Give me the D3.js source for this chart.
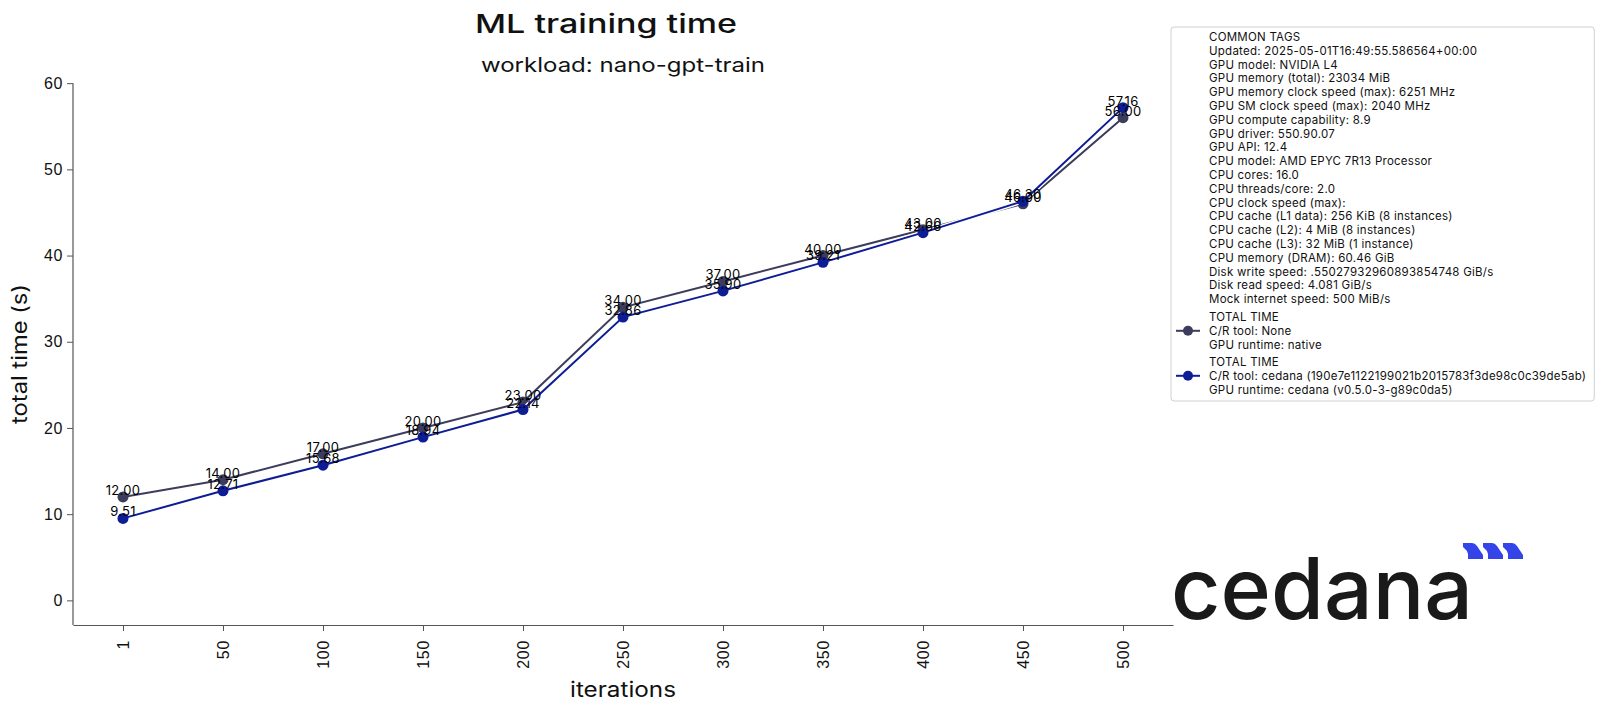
<!DOCTYPE html>
<html>
<head>
<meta charset="UTF-8">
<title>ML training time</title>
<style>
  body { margin: 0; background: #fff; }
  svg { font-family: Inter, "Noto Sans", sans-serif; }
</style>
</head>
<body>
<svg width="1600" height="713"></svg>
<script src="https://cdn.jsdelivr.net/npm/d3@7/dist/d3.min.js"></script>
<script>
// data
var iterations = ["1", "50", "100", "150", "200", "250", "300", "350", "400", "450", "500"];
var nativeTime = [12.00, 14.00, 17.00, 20.00, 23.00, 34.00, 37.00, 40.00, 43.00, 46.00, 56.00];
var cedanaTime = [9.51, 12.71, 15.68, 18.94, 22.14, 32.86, 35.90, 39.21, 42.66, 46.30, 57.16];
var yTicks = [0, 10, 20, 30, 40, 50, 60];

var commonTags = [
  "COMMON TAGS",
  "Updated: 2025-05-01T16:49:55.586564+00:00",
  "GPU model: NVIDIA L4",
  "GPU memory (total): 23034 MiB",
  "GPU memory clock speed (max): 6251 MHz",
  "GPU SM clock speed (max): 2040 MHz",
  "GPU compute capability: 8.9",
  "GPU driver: 550.90.07",
  "GPU API: 12.4",
  "CPU model: AMD EPYC 7R13 Processor",
  "CPU cores: 16.0",
  "CPU threads/core: 2.0",
  "CPU clock speed (max):",
  "CPU cache (L1 data): 256 KiB (8 instances)",
  "CPU cache (L2): 4 MiB (8 instances)",
  "CPU cache (L3): 32 MiB (1 instance)",
  "CPU memory (DRAM): 60.46 GiB",
  "Disk write speed: .55027932960893854748 GiB/s",
  "Disk read speed: 4.081 GiB/s",
  "Mock internet speed: 500 MiB/s"
];
var nativeLabel = ["TOTAL TIME", "C/R tool: None", "GPU runtime: native"];
var cedanaLabel = ["TOTAL TIME", "C/R tool: cedana (190e7e1122199021b2015783f3de98c0c39de5ab)", "GPU runtime: cedana (v0.5.0-3-g89c0da5)"];

var series = [
  { name: "native", values: nativeTime, color: "#3c3c5c", lines: nativeLabel },
  { name: "cedana", values: cedanaTime, color: "#0e1c96", lines: cedanaLabel }
];

(function() {
  var svg = d3.select("svg");
  var mLeft = 73, mRight = 1173, mTop = 83, mBottom = 625;

  var x = d3.scalePoint().domain(iterations).range([mLeft, mRight]).padding(0.5);
  var yMax = d3.max(cedanaTime.concat(nativeTime)) * 1.05;
  var y = d3.scaleLinear().domain([-yMax * 0.05 / 1.05, yMax]).range([mBottom, mTop]);

  // axes
  var gx = svg.append("g").attr("transform", "translate(0," + mBottom + ")")
    .call(d3.axisBottom(x).tickSize(6).tickSizeOuter(0));
  gx.select(".domain").attr("stroke", "#555").attr("stroke-width", 1.2);
  gx.selectAll(".tick line").attr("stroke", "#555");
  gx.selectAll(".tick text")
    .attr("font-size", 16).attr("fill", "#111").attr("letter-spacing", 0.7)
    .attr("transform", "rotate(-90)")
    .attr("text-anchor", "end")
    .attr("dy", "0.35em")
    .attr("x", -15).attr("y", 0);

  var gy = svg.append("g").attr("transform", "translate(" + mLeft + ",0)")
    .call(d3.axisLeft(y).tickValues(yTicks).tickSize(6).tickSizeOuter(0));
  gy.select(".domain").attr("stroke", "#555").attr("stroke-width", 1.2)
    .attr("d", "M0," + y(60) + "V" + mBottom);
  gy.selectAll(".tick line").attr("stroke", "#555");
  gy.selectAll(".tick text").attr("font-size", 16).attr("fill", "#111")
    .attr("letter-spacing", 0.6).attr("x", -10);

  // axis titles
  svg.append("text").attr("x", (mLeft + mRight) / 2).attr("y", 697)
    .attr("text-anchor", "middle").attr("font-size", 21).attr("fill", "#111")
    .attr("textLength", 106).attr("lengthAdjust", "spacingAndGlyphs")
    .text("iterations");
  svg.append("text").attr("transform", "translate(27," + (mTop + mBottom) / 2 + ") rotate(-90)")
    .attr("text-anchor", "middle").attr("font-size", 21).attr("fill", "#111")
    .attr("textLength", 140).attr("lengthAdjust", "spacingAndGlyphs")
    .text("total time (s)");

  // titles
  svg.append("text").attr("x", 606).attr("y", 33)
    .attr("text-anchor", "middle").attr("font-size", 26).attr("font-weight", 500).attr("fill", "#111")
    .attr("textLength", 262).attr("lengthAdjust", "spacingAndGlyphs")
    .text("ML training time");
  svg.append("text").attr("x", (mLeft + mRight) / 2).attr("y", 72)
    .attr("text-anchor", "middle").attr("font-size", 20).attr("fill", "#111")
    .attr("textLength", 284).attr("lengthAdjust", "spacingAndGlyphs")
    .text("workload: nano-gpt-train");

  // lines + markers
  var line = d3.line().x(function(d, i) { return x(iterations[i]); }).y(function(d) { return y(d); });

  series.forEach(function(s) {
    var g = svg.append("g");
    g.append("path").datum(s.values).attr("d", line)
      .attr("fill", "none").attr("stroke", "#fff").attr("stroke-width", 4.5);
    g.append("path").datum(s.values).attr("d", line)
      .attr("fill", "none").attr("stroke", s.color).attr("stroke-width", 2);
    g.selectAll("circle").data(s.values).enter().append("circle")
      .attr("cx", function(d, i) { return x(iterations[i]); })
      .attr("cy", function(d) { return y(d); })
      .attr("r", 5.5).attr("fill", s.color);
  });

  // value labels
  series.forEach(function(s) {
    svg.append("g").selectAll("text").data(s.values).enter().append("text")
      .attr("x", function(d, i) { return x(iterations[i]); })
      .attr("y", function(d) { return y(d) - 2; })
      .attr("text-anchor", "middle").attr("font-size", 13).attr("letter-spacing", 0.3)
      .attr("fill", "#000")
      .text(function(d) { return d.toFixed(2); });
  });

  // legend
  var lg = svg.append("g");
  var box = lg.append("rect").attr("fill", "#fff").attr("fill-opacity", 0.85)
    .attr("stroke", "#d0d0d0").attr("rx", 3);
  var tx = 1209, lh = 13.8;
  var legendText = lg.append("g").attr("font-size", 11.5).attr("letter-spacing", 0.25).attr("fill", "#111");
  commonTags.forEach(function(t, i) {
    legendText.append("text").attr("x", tx).attr("y", 41 + i * lh).text(t);
  });
  var blockTop = [321, 366];
  series.forEach(function(s, k) {
    s.lines.forEach(function(t, i) {
      legendText.append("text").attr("x", tx).attr("y", blockTop[k] + i * lh).text(t);
    });
    var my = blockTop[k] + lh - 4;
    lg.append("line").attr("x1", 1176).attr("x2", 1200).attr("y1", my).attr("y2", my)
      .attr("stroke", s.color).attr("stroke-width", 2);
    lg.append("circle").attr("cx", 1188).attr("cy", my).attr("r", 5).attr("fill", s.color);
  });
  var bb = legendText.node().getBBox();
  box.attr("x", 1171).attr("y", 27).attr("width", bb.x + bb.width + 8 - 1171).attr("height", 401 - 27);

  // logo
  var logo = svg.append("g");
  logo.append("text").attr("x", 1171).attr("y", 619)
    .attr("font-size", 85).attr("font-weight", 500).attr("fill", "#1a1a1a")
    .attr("textLength", 302).attr("lengthAdjust", "spacingAndGlyphs")
    .text("cedana");
  [1463, 1483, 1503].forEach(function(px) {
    logo.append("path")
      .attr("d", "M" + px + ",543 h9 q3,0 5,3 l6,9 v4 h-15 v-5 q0,-3 -3,-5 l-2,-2 z")
      .attr("fill", "#3444e8");
  });
})();
</script>
</body>
</html>
